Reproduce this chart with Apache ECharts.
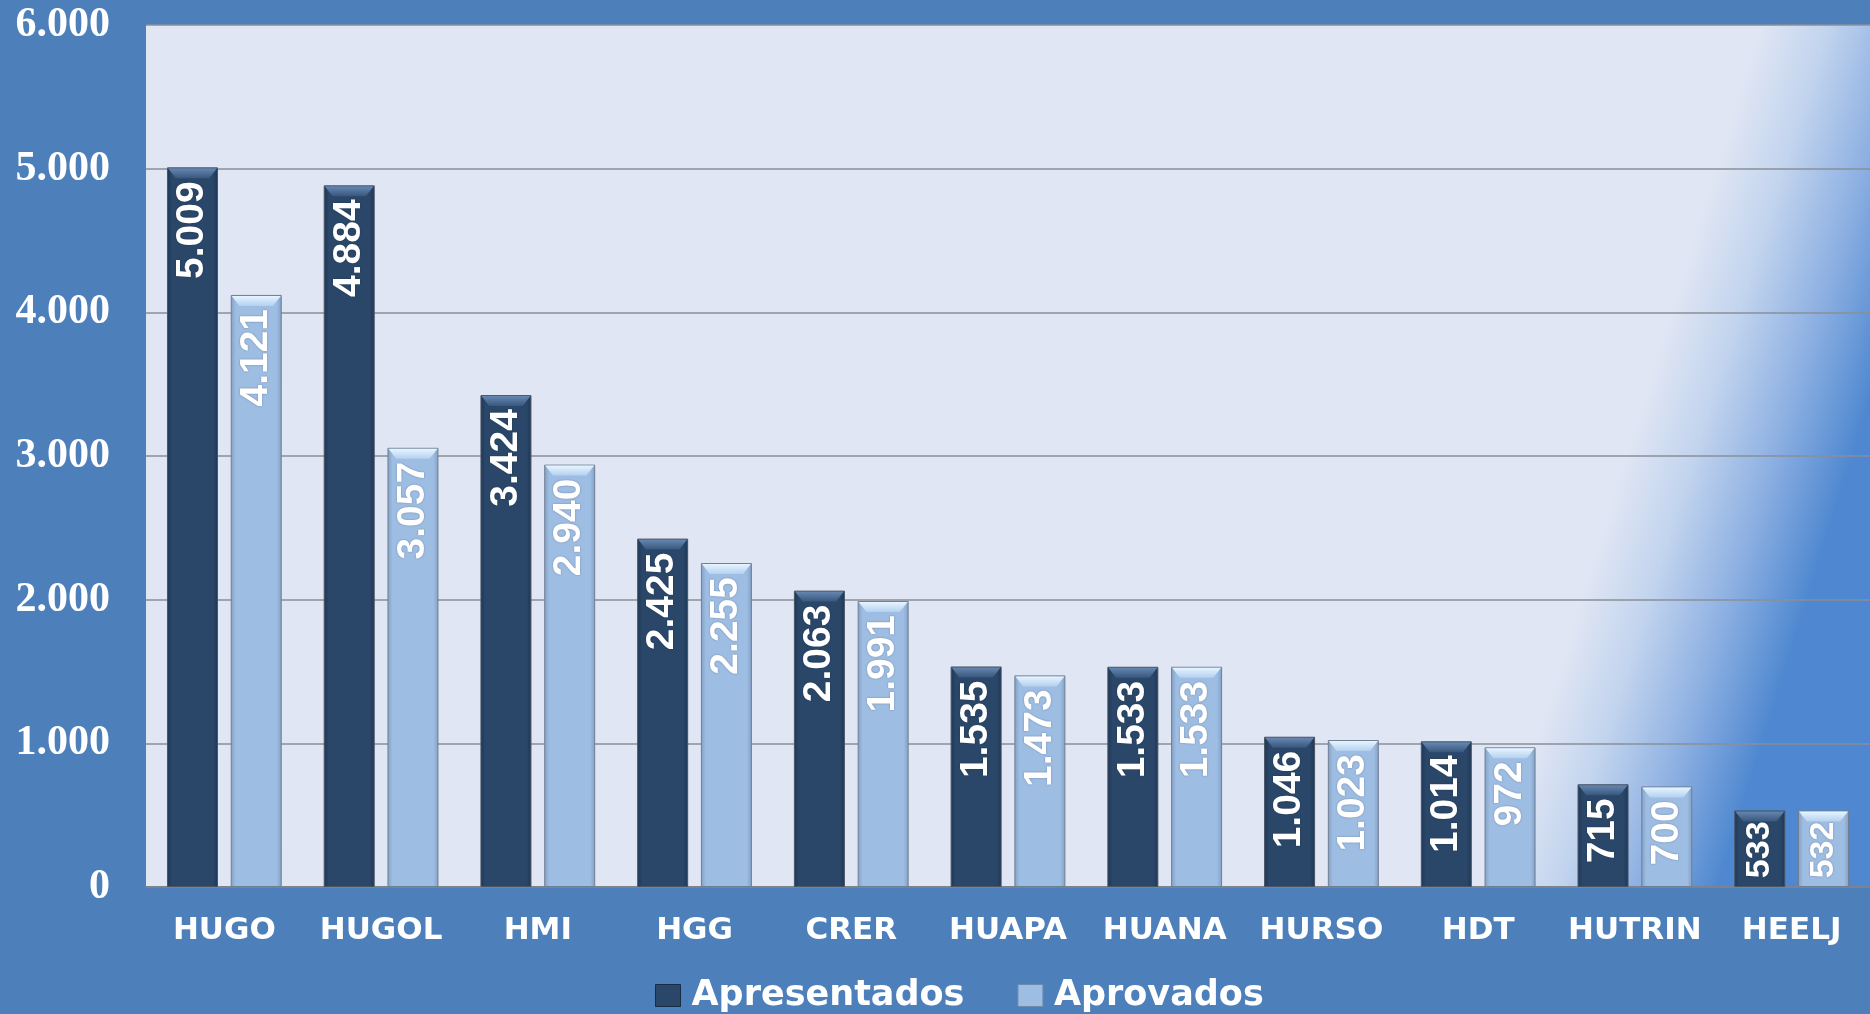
<!DOCTYPE html>
<html>
<head>
<meta charset="utf-8">
<script src="https://cdn.jsdelivr.net/npm/echarts@6/dist/echarts.min.js"></script>
<style>
	html, body { margin: 0; padding: 0; background: #4d80bb; }
	#chart { width: 1870px; height: 1014px; }
</style>
</head>
<body>
<div id="chart"></div>
<script>
var categories = ['HUGO', 'HUGOL', 'HMI', 'HGG', 'CRER', 'HUAPA', 'HUANA', 'HURSO', 'HDT', 'HUTRIN', 'HEELJ'];
var apresentados = [5009, 4884, 3424, 2425, 2063, 1535, 1533, 1046, 1014, 715, 533];
var aprovados = [4121, 3057, 2940, 2255, 1991, 1473, 1533, 1023, 972, 700, 532];
var yTicks = [0, 1000, 2000, 3000, 4000, 5000, 6000];

// 5009 -> "5.009"
function fmt(v) {
	return String(v).replace(/\B(?=(\d{3})+(?!\d))/g, '.');
}

// short bars get a slightly smaller label so it stays inside
function withLabels(arr) {
	return arr.map(function (v) {
		return v < 600 ? { value: v, label: { fontSize: 34, distance: 11 } } : v;
	});
}

var chart = echarts.init(document.getElementById('chart'));

var barW = 51;
var darkFill = {
	type: 'linear', x: 0, y: 0, x2: 1, y2: 0,
	colorStops: [
		{ offset: 0, color: '#1d3656' },
		{ offset: 0.1, color: '#2a4769' },
		{ offset: 0.9, color: '#2a4769' },
		{ offset: 1, color: '#1d3656' }
	]
};
var lightFill = {
	type: 'linear', x: 0, y: 0, x2: 1, y2: 0,
	colorStops: [
		{ offset: 0, color: '#829fc4' },
		{ offset: 0.1, color: '#9ebde3' },
		{ offset: 0.9, color: '#9ebde3' },
		{ offset: 1, color: '#829fc4' }
	]
};

var labelStyle = {
	show: true,
	position: 'insideTop',
	rotate: 90,
	align: 'right',
	verticalAlign: 'middle',
	distance: 14,
	color: '#fff',
	fontFamily: 'Liberation Sans',
	fontWeight: 'bold',
	fontSize: 39,
	textShadowColor: 'rgba(0,0,0,0.3)',
	textShadowBlur: 2,
	formatter: function (p) { return fmt(p.value); }
};

var bevel = 'path://M0,0 L100,0 L84,16 L16,16 Z';

var option = {
	backgroundColor: '#4d80bb',
	animation: false,
	grid: {
		left: 146,
		right: -6,
		top: 25,
		bottom: 127,
		show: true,
		borderWidth: 0,
		backgroundColor: {
			type: 'linear', x: 0.78, y: 1.0, x2: 0.9, y2: 1.075,
			colorStops: [
				{ offset: 0, color: '#e0e6f4' },
				{ offset: 0.3, color: '#c2d4ee' },
				{ offset: 0.65, color: '#8db0e2' },
				{ offset: 1, color: '#4f88d0' }
			]
		}
	},
	legend: {
		left: 650,
		top: 973,
		itemWidth: 25,
		itemHeight: 22,
		itemGap: 53,
		icon: 'rect',
		textStyle: {
			color: '#fff',
			fontFamily: 'DejaVu Sans',
			fontWeight: 'bold',
			fontSize: 35,
			padding: [0, 0, 0, 6]
		},
		data: [
			{ name: 'Apresentados', itemStyle: { color: '#2a4769', borderColor: '#1a2c44', borderWidth: 1 } },
			{ name: 'Aprovados', itemStyle: { color: '#9ebde3', borderColor: '#6f8aab', borderWidth: 1 } }
		]
	},
	xAxis: {
		type: 'category',
		data: categories,
		axisLine: { lineStyle: { color: '#7d838c', width: 2 } },
		axisTick: { show: false },
		axisLabel: {
			interval: 0,
			margin: 28,
			color: '#fff',
			fontFamily: 'DejaVu Sans',
			fontWeight: 'bold',
			fontSize: 31
		}
	},
	yAxis: {
		type: 'value',
		min: yTicks[0],
		max: yTicks[yTicks.length - 1],
		interval: 1000,
		axisLine: { show: false },
		axisTick: { show: false },
		axisLabel: {
			margin: 36,
			color: '#fff',
			fontFamily: 'Liberation Serif',
			fontWeight: 'bold',
			fontSize: 42,
			formatter: function (v) { return fmt(v); }
		},
		splitLine: { lineStyle: { color: '#8a8f98', width: 1.5 } }
	},
	series: [
		{
			name: 'Apresentados',
			type: 'bar',
			barWidth: barW,
			barGap: '25%',
			data: withLabels(apresentados),
			itemStyle: { color: darkFill, borderColor: '#4a5564', borderWidth: 1 },
			label: labelStyle
		},
		{
			name: 'Aprovados',
			type: 'bar',
			barWidth: barW,
			barGap: '25%',
			data: withLabels(aprovados),
			itemStyle: { color: lightFill, borderColor: '#6f7f92', borderWidth: 1 },
			label: labelStyle
		},
		{
			name: 'bevelA',
			type: 'pictorialBar',
			barWidth: barW,
			barGap: '25%',
			symbol: bevel,
			symbolSize: [barW - 2, 10],
			symbolPosition: 'end',
			symbolOffset: [0, 1],
			z: 3,
			silent: true,
			data: apresentados,
			itemStyle: {
				color: {
					type: 'linear', x: 0, y: 0, x2: 0, y2: 1,
					colorStops: [{ offset: 0, color: '#6687b0' }, { offset: 1, color: '#38577e' }]
				}
			}
		},
		{
			name: 'bevelB',
			type: 'pictorialBar',
			barWidth: barW,
			barGap: '25%',
			symbol: bevel,
			symbolSize: [barW - 2, 10],
			symbolPosition: 'end',
			symbolOffset: [0, 1],
			z: 3,
			silent: true,
			data: aprovados,
			itemStyle: {
				color: {
					type: 'linear', x: 0, y: 0, x2: 0, y2: 1,
					colorStops: [{ offset: 0, color: '#e6f5ff' }, { offset: 1, color: '#b4d0f0' }]
				}
			}
		}
	]
};
chart.setOption(option);
</script>
</body>
</html>
